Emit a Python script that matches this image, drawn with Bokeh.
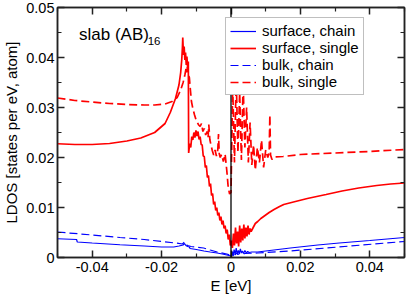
from bokeh.plotting import figure
from bokeh.models import (Range1d, FixedTicker, LinearAxis, Span, Legend,
                          LegendItem, Label, CustomJSTickFormatter)
from bokeh.embed import file_html
from bokeh.resources import INLINE

# ---------------- data ----------------
x_ticks = [-0.04, -0.02, 0.0, 0.02, 0.04]
x_tick_labels = ["-0.04", "-0.02", "0", "0.02", "0.04"]
x_minor = [-0.05, -0.03, -0.01, 0.01, 0.03, 0.05]
y_ticks = [0.0, 0.01, 0.02, 0.03, 0.04, 0.05]
y_tick_labels = ["0", "0.01", "0.02", "0.03", "0.04", "0.05"]
y_minor = [0.005, 0.015, 0.025, 0.035, 0.045]

series_names = ["surface, chain", "surface, single", "bulk, chain", "bulk, single"]

# surface, single (red solid)
e_surf_single = [-0.050, -0.045, -0.040, -0.035, -0.030, -0.026, -0.022, -0.019, -0.0175,
                 -0.016, -0.015, -0.0145, -0.0142, -0.0140, -0.0139, -0.0137, -0.0135,
                 -0.0133, -0.0131, -0.0129, -0.0127, -0.0125, -0.0123,
                 -0.0122, -0.0119, -0.0116, -0.0113, -0.0110, -0.0107, -0.0104, -0.0101,
                 -0.0098, -0.0095, -0.0092, -0.0089, -0.0086, -0.0083, -0.0080, -0.0077,
                 -0.0074, -0.0071, -0.0068, -0.0065, -0.0062, -0.0059, -0.0056, -0.0053,
                 -0.0050, -0.0047, -0.0044, -0.0041, -0.0038, -0.0035, -0.0032, -0.0029,
                 -0.0026, -0.0023, -0.0020, -0.0017, -0.0014, -0.0011, -0.0008, -0.0005,
                 -0.0002, 0.0001, 0.0004, 0.0007, 0.0010, 0.0013, 0.0016, 0.0019, 0.0022,
                 0.0025, 0.0028, 0.0031, 0.0034, 0.0037, 0.0040, 0.0043, 0.0046, 0.0049,
                 0.0052, 0.0055, 0.0058, 0.0064, 0.0070, 0.0077, 0.0086, 0.0096, 0.0110,
                 0.0124, 0.0140, 0.0152, 0.0180, 0.0220, 0.0274, 0.0320, 0.0368, 0.0420,
                 0.0460, 0.0500]
ldos_surf_single = [0.02275, 0.0226, 0.0226, 0.0228, 0.0233, 0.0239, 0.0250, 0.0268, 0.0290,
                    0.0318, 0.0345, 0.0370, 0.0395, 0.0420, 0.0440, 0.0405, 0.0422,
                    0.0395, 0.0410, 0.0385, 0.0402, 0.0380, 0.0392,
                    0.0209, 0.0228, 0.0220, 0.0242, 0.0235, 0.0250, 0.0240, 0.0254,
                    0.0243, 0.0252, 0.0236, 0.0242, 0.0226, 0.0225, 0.0203, 0.0202,
                    0.0180, 0.0184, 0.0160, 0.0164, 0.0142, 0.0148, 0.0124, 0.0128,
                    0.0106, 0.0112, 0.0094, 0.0100, 0.0084, 0.0090, 0.0074, 0.0082,
                    0.0066, 0.0074, 0.0058, 0.0064, 0.0048, 0.0056, 0.0036, 0.0046,
                    0.0024, 0.0034, 0.0019, 0.0048, 0.0024, 0.0060, 0.0028, 0.0052, 0.0022,
                    0.0064, 0.0030, 0.0058, 0.0034, 0.0066, 0.0038, 0.0060, 0.0042, 0.0064,
                    0.0046, 0.0058, 0.0052, 0.0060, 0.0068, 0.0072, 0.0078, 0.0083, 0.0090,
                    0.0096, 0.0102, 0.0106, 0.0111, 0.0118, 0.0126, 0.0133, 0.0139, 0.0144,
                    0.0147, 0.0149]

# bulk, single (red dashed)
e_bulk_single = [-0.050, -0.045, -0.040, -0.035, -0.030, -0.025, -0.022, -0.019, -0.017,
                 -0.0155, -0.0145, -0.0138, -0.0133, -0.0129, -0.0127, -0.0125, -0.0123,
                 -0.0120, -0.0117, -0.0114, -0.0110, -0.0105, -0.0101, -0.0097, -0.0093,
                 -0.0089, -0.0085, -0.0081, -0.0077, -0.0073, -0.0069, -0.0066, -0.0064,
                 -0.0061, -0.0058, -0.0054, -0.0050, -0.0046, -0.0042, -0.0038, -0.0036,
                 -0.0034, -0.0031, -0.0027, -0.0022, -0.0017, -0.0012, -0.0008, -0.0004,
                 0.0000, 0.0005, 0.0010, 0.0015, 0.0020, 0.0025, 0.0030, 0.0035, 0.0040,
                 0.0045, 0.0050, 0.0055, 0.0060, 0.0065, 0.0070, 0.0076, 0.0082, 0.0088,
                 0.0094, 0.0100, 0.0106, 0.0110, 0.0112, 0.0114, 0.0118, 0.0124,
                 0.0150, 0.0200, 0.0300, 0.0400, 0.0500]
ldos_bulk_single = [0.0319, 0.0314, 0.0311, 0.0308, 0.0306, 0.0305, 0.0305, 0.0307, 0.0312,
                    0.0320, 0.0335, 0.0350, 0.0365, 0.0380, 0.0370, 0.0388, 0.0366,
                    0.0360, 0.0335, 0.0312, 0.0298, 0.0285, 0.0276, 0.0270, 0.0265,
                    0.0262, 0.0268, 0.0252, 0.0258, 0.0245, 0.0252, 0.0240, 0.0266,
                    0.0236, 0.0226, 0.0214, 0.0205, 0.0215, 0.0203, 0.0216, 0.0247,
                    0.0208, 0.0200, 0.0206, 0.0192, 0.0207, 0.0173, 0.0140, 0.0127,
                    0.0130, 0.0340, 0.0190, 0.0360, 0.0210, 0.0330, 0.0195, 0.0350, 0.0220,
                    0.0300, 0.0190, 0.0270, 0.0185, 0.0225, 0.0175, 0.0220, 0.0190, 0.0235,
                    0.0180, 0.0215, 0.0200, 0.0210, 0.0285, 0.0205, 0.0196, 0.0201,
                    0.0202, 0.0206, 0.0209, 0.0212, 0.0216]

# surface, chain (blue solid)
e_surf_chain = [-0.050, -0.0445, -0.0443, -0.040, -0.032, -0.025, -0.020, -0.0165, -0.0150,
                -0.0138, -0.0134, -0.0130, -0.0125, -0.0120, -0.0118, -0.0100, -0.0078,
                -0.0060, -0.0040, -0.0025, -0.0012, 0.0000, 0.0003, 0.0006, 0.0009, 0.0012,
                0.0015, 0.0018, 0.0021, 0.0024, 0.0027, 0.0030, 0.0033, 0.0036, 0.0040,
                0.0044, 0.0048, 0.0052, 0.0060, 0.0077, 0.0100, 0.0171, 0.0250, 0.0312,
                0.0400, 0.0500]
ldos_surf_chain = [0.00375, 0.0036, 0.0031, 0.0029, 0.00255, 0.0023, 0.0021, 0.0021, 0.0023,
                   0.0025, 0.0028, 0.0024, 0.0022, 0.0021, 0.0018, 0.0016, 0.0013,
                   0.0011, 0.0009, 0.0007, 0.0005, 0.0003, 0.0012, 0.0004, 0.0016, 0.0006,
                   0.0019, 0.0007, 0.0014, 0.0008, 0.0017, 0.0009, 0.0013, 0.0008, 0.0014,
                   0.0009, 0.0012, 0.0010, 0.0011, 0.0011, 0.0013, 0.0019, 0.0025, 0.0029,
                   0.0034, 0.0040]

# bulk, chain (blue dashed)
e_bulk_chain = [-0.050, -0.040, -0.032, -0.025, -0.020, -0.016, -0.0140, -0.0134, -0.0130,
                -0.0125, -0.0115, -0.0079, -0.0060, -0.0040, -0.0012, 0.0000, 0.0003,
                0.0006, 0.0009, 0.0012, 0.0015, 0.0020, 0.0025, 0.0030, 0.0040, 0.0077,
                0.0170, 0.0310, 0.0500]
ldos_bulk_chain = [0.0051, 0.0045, 0.0040, 0.0036, 0.0032, 0.0029, 0.0027, 0.0031, 0.0026,
                   0.0024, 0.0022, 0.0019, 0.0015, 0.0011, 0.0007, 0.0004, 0.0010,
                   0.0003, 0.0012, 0.0005, 0.0009, 0.0006, 0.0008, 0.0006, 0.0008, 0.0009,
                   0.0013, 0.0021, 0.0032]

# ---------------- figure ----------------
FONT = "Liberation Sans"
RED = "#ff0000"
BLUE = "#0000ff"
AX = "#222222"

p = figure(width=406, height=296, output_backend="svg", toolbar_location=None,
           x_range=Range1d(-0.05, 0.05), y_range=Range1d(0, 0.05),
           min_border_left=0, min_border_right=2, min_border_top=7, min_border_bottom=0)
p.grid.visible = False
p.outline_line_color = AX
p.outline_line_width = 1.5

xt = FixedTicker(ticks=x_ticks, minor_ticks=x_minor)
yt = FixedTicker(ticks=y_ticks, minor_ticks=y_minor)


def style(ax):
    ax.axis_line_color = AX
    ax.axis_line_width = 1.5
    ax.major_tick_line_color = AX
    ax.major_tick_line_width = 1.5
    ax.minor_tick_line_color = AX
    ax.minor_tick_line_width = 1.2
    ax.major_tick_in = 7
    ax.major_tick_out = 0
    ax.minor_tick_in = 4
    ax.minor_tick_out = 0
    ax.major_label_text_font = FONT
    ax.major_label_text_font_size = "14.5px"
    ax.major_label_text_color = "black"
    ax.axis_label_text_font = FONT
    ax.axis_label_text_font_size = "15px"
    ax.axis_label_text_font_style = "normal"
    ax.axis_label_text_color = "black"


xa = p.xaxis[0]
xa.ticker = xt
xa.major_label_overrides = {v: s for v, s in zip(x_ticks, x_tick_labels)}
xa.axis_label = "E [eV]"
style(xa)
xa.major_label_standoff = 4
xa.axis_label_standoff = 2

ya = p.yaxis[0]
ya.ticker = yt
ya.major_label_overrides = {v: s for v, s in zip(y_ticks, y_tick_labels)}
ya.axis_label = "LDOS [states per eV, atom]"
style(ya)
ya.major_label_standoff = 3
ya.axis_label_standoff = 3

blank = CustomJSTickFormatter(code="return '';")
top = LinearAxis(ticker=FixedTicker(ticks=x_ticks, minor_ticks=x_minor), formatter=blank)
style(top)
top.major_label_standoff = 0
p.add_layout(top, "above")
right = LinearAxis(ticker=FixedTicker(ticks=y_ticks, minor_ticks=y_minor), formatter=blank)
style(right)
right.major_label_standoff = 0
p.add_layout(right, "right")

r_sc = p.line(e_surf_chain, ldos_surf_chain, line_color=BLUE, line_width=1.2)
r_ss = p.line(e_surf_single, ldos_surf_single, line_color=RED, line_width=1.7)
r_bc = p.line(e_bulk_chain, ldos_bulk_chain, line_color=BLUE, line_width=1.2, line_dash="8 4")
r_bs = p.line(e_bulk_single, ldos_bulk_single, line_color=RED, line_width=1.7, line_dash="8 4")

p.add_layout(Span(location=0, dimension="height", line_color="black", line_width=1.3))

p.add_layout(Label(x=-0.0438, y=0.0446, text="slab (AB)", text_font=FONT,
                   text_font_size="17px", text_color="black", text_baseline="alphabetic"))
p.add_layout(Label(x=-0.0240, y=0.0434, text="16", text_font=FONT,
                   text_font_size="11.5px", text_color="black", text_baseline="alphabetic"))

legend = Legend(items=[LegendItem(label=series_names[0], renderers=[r_sc]),
                       LegendItem(label=series_names[1], renderers=[r_ss]),
                       LegendItem(label=series_names[2], renderers=[r_bc]),
                       LegendItem(label=series_names[3], renderers=[r_bs])],
                location=(168, 162))
legend.label_text_font = FONT
legend.label_text_font_size = "15px"
legend.label_text_color = "black"
legend.label_height = 16
legend.glyph_height = 16
legend.glyph_width = 26
legend.label_standoff = 6
legend.spacing = 0
legend.padding = 4
legend.margin = 0
legend.border_line_color = "#808080"
legend.border_line_width = 1.5
legend.background_fill_color = "white"
legend.background_fill_alpha = 1.0
p.add_layout(legend, "center")

open("out.html", "w").write(file_html(p, INLINE))
